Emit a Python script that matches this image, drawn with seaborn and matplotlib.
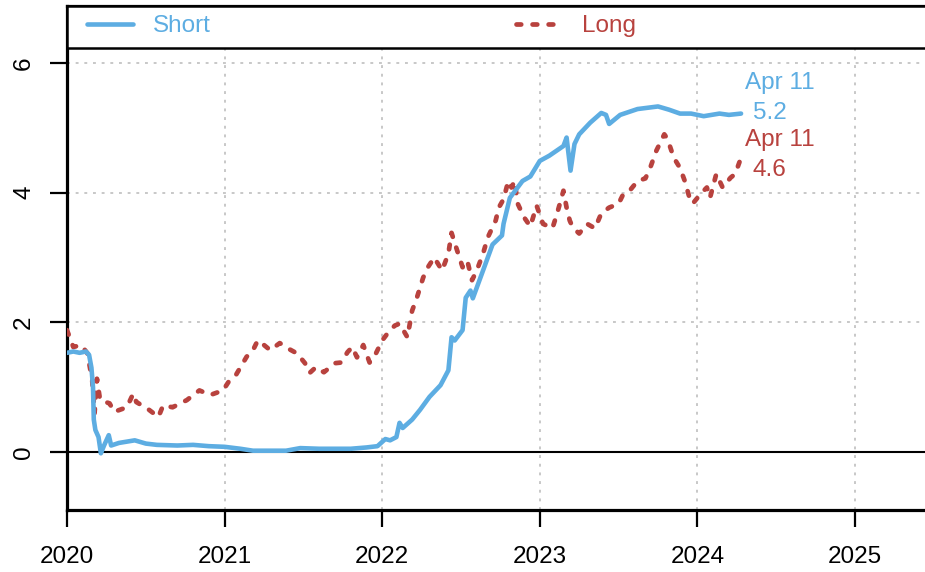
import matplotlib
matplotlib.use("Agg")
import matplotlib.pyplot as plt
from matplotlib.patches import Rectangle
import seaborn as sns
import pandas as pd

# ---------------- data ----------------
short_years = [2020.00, 2020.04, 2020.08, 2020.12, 2020.14, 2020.155, 2020.165, 2020.17, 2020.18, 2020.20,
               2020.215, 2020.235, 2020.265, 2020.28, 2020.33, 2020.43, 2020.50, 2020.57, 2020.70, 2020.80,
               2020.90, 2021.00, 2021.10, 2021.18, 2021.30, 2021.39, 2021.48, 2021.60, 2021.71, 2021.80,
               2021.90, 2021.97, 2022.02, 2022.05, 2022.09, 2022.11, 2022.13, 2022.19, 2022.24, 2022.30,
               2022.37, 2022.42, 2022.44, 2022.46, 2022.51, 2022.53, 2022.56, 2022.575, 2022.64, 2022.70,
               2022.76, 2022.77, 2022.81, 2022.89, 2022.94, 2023.00, 2023.06, 2023.15, 2023.17, 2023.195,
               2023.22, 2023.25, 2023.32, 2023.39, 2023.42, 2023.44, 2023.51, 2023.62, 2023.75, 2023.82,
               2023.89, 2023.96, 2024.04, 2024.14, 2024.20, 2024.277]
short_vals = [1.53, 1.55, 1.53, 1.55, 1.50, 1.30, 1.00, 0.50, 0.34, 0.23,
              -0.02, 0.10, 0.26, 0.10, 0.14, 0.18, 0.13, 0.11, 0.10, 0.11,
              0.09, 0.08, 0.05, 0.02, 0.02, 0.02, 0.06, 0.05, 0.05, 0.05,
              0.07, 0.09, 0.20, 0.18, 0.23, 0.45, 0.37, 0.50, 0.65, 0.85,
              1.03, 1.26, 1.77, 1.72, 1.88, 2.38, 2.49, 2.37, 2.80, 3.20,
              3.34, 3.52, 3.92, 4.18, 4.25, 4.49, 4.57, 4.72, 4.85, 4.34,
              4.75, 4.90, 5.08, 5.23, 5.20, 5.06, 5.20, 5.29, 5.33, 5.28,
              5.22, 5.22, 5.18, 5.22, 5.20, 5.22]

long_years = [2020.00, 2020.04, 2020.09, 2020.13, 2020.16, 2020.175, 2020.19, 2020.21, 2020.27, 2020.30,
              2020.38, 2020.42, 2020.44, 2020.51, 2020.58, 2020.61, 2020.67, 2020.76, 2020.84, 2020.91,
              2020.99, 2021.03, 2021.07, 2021.14, 2021.18, 2021.21, 2021.25, 2021.29, 2021.35, 2021.40,
              2021.46, 2021.51, 2021.54, 2021.58, 2021.63, 2021.70, 2021.74, 2021.78, 2021.81, 2021.84,
              2021.88, 2021.92, 2021.96, 2022.00, 2022.04, 2022.08, 2022.11, 2022.16, 2022.19, 2022.22,
              2022.26, 2022.29, 2022.33, 2022.38, 2022.42, 2022.44, 2022.47, 2022.51, 2022.54, 2022.57,
              2022.60, 2022.64, 2022.67, 2022.72, 2022.74, 2022.77, 2022.80, 2022.82, 2022.84, 2022.86,
              2022.90, 2022.94, 2022.98, 2023.02, 2023.08, 2023.11, 2023.15, 2023.17, 2023.19, 2023.21,
              2023.25, 2023.30, 2023.35, 2023.39, 2023.44, 2023.50, 2023.53, 2023.57, 2023.62, 2023.67,
              2023.70, 2023.74, 2023.77, 2023.79, 2023.81, 2023.85, 2023.89, 2023.92, 2023.95, 2023.97,
              2024.02, 2024.06, 2024.08, 2024.12, 2024.16, 2024.21, 2024.24, 2024.277]
long_vals = [1.88, 1.62, 1.65, 1.52, 1.10, 0.60, 1.13, 0.80, 0.75, 0.62,
             0.69, 0.90, 0.77, 0.67, 0.54, 0.72, 0.69, 0.80, 0.95, 0.88,
             0.95, 1.10, 1.18, 1.47, 1.57, 1.72, 1.65, 1.57, 1.68, 1.60,
             1.52, 1.37, 1.22, 1.31, 1.23, 1.37, 1.38, 1.54, 1.62, 1.46,
             1.65, 1.38, 1.52, 1.72, 1.85, 1.95, 1.98, 1.77, 2.18, 2.38,
             2.69, 2.85, 3.00, 2.80, 3.06, 3.38, 3.15, 2.85, 2.95, 2.65,
             2.80, 3.06, 3.31, 3.57, 3.77, 3.90, 4.18, 4.08, 4.18, 3.83,
             3.62, 3.48, 3.80, 3.52, 3.45, 3.68, 4.03, 3.77, 3.57, 3.46,
             3.37, 3.52, 3.45, 3.68, 3.77, 3.83, 3.98, 4.03, 4.18, 4.22,
             4.38, 4.65, 4.80, 4.90, 4.83, 4.54, 4.38, 4.18, 3.92, 3.83,
             3.98, 4.08, 3.92, 4.29, 4.08, 4.23, 4.29, 4.54]

series_labels = ["Short", "Long"]
end_date_label = "Apr 11"
end_values = ["5.2", "4.6"]
year_ticks = [2020, 2021, 2022, 2023, 2024, 2025]
y_ticks = [0, 2, 4, 6]

# ---------------- styling ----------------
BLUE = "#5DADE2"
RED = "#B8423E"
FS = 17.5

sns.set_style("white")
plt.rcParams["font.family"] = ["Liberation Sans", "DejaVu Sans"]

df_short = pd.DataFrame({"year": short_years, "value": short_vals})
df_long = pd.DataFrame({"year": long_years, "value": long_vals})

fig = plt.figure(figsize=(9.25, 5.72), dpi=100)
W, H = 925.0, 572.0
left_px, right_px, top_px, bot_px = 67.0, 943.5, 6.0, 510.0
ax = fig.add_axes([left_px / W, (H - bot_px) / H, (right_px - left_px) / W, (bot_px - top_px) / H])

sns.lineplot(data=df_long, x="year", y="value", ax=ax, color=RED, lw=3.4,
             estimator=None, sort=False, label=series_labels[1],
             linestyle=(0, (1.0, 2.4)), zorder=3)
sns.lineplot(data=df_short, x="year", y="value", ax=ax, color=BLUE, lw=3.3,
             estimator=None, sort=False, label=series_labels[0], zorder=4)
for ln in ax.get_lines():
    ln.set_dash_capstyle("round")
    ln.set_solid_capstyle("round")
    ln.set_solid_joinstyle("round")

ax.axhline(0, color="black", lw=1.5, zorder=2)

ax.set_xlim(2020, 2020 + (right_px - left_px) / 157.6)
ax.set_ylim(-(bot_px - 452) / 64.83, (452 - top_px) / 64.83)
ax.set_xticks(year_ticks)
ax.set_xticklabels([str(y) for y in year_ticks])
ax.set_yticks(y_ticks)
ax.set_yticklabels([str(v) for v in y_ticks], rotation=90, va="center")
ax.set_xlabel("")
ax.set_ylabel("")

ax.grid(True, color="#C4C4C4", linestyle=(0, (1.6, 3.2)), lw=1.3)
ax.set_axisbelow(True)

for side in ["left", "bottom", "top"]:
    ax.spines[side].set_visible(True)
    ax.spines[side].set_color("black")
    ax.spines[side].set_linewidth(2.3)
ax.spines["right"].set_visible(False)

ax.tick_params(axis="both", which="major", length=12, width=1.6, color="black",
               labelsize=FS, labelcolor="black", direction="out")
ax.tick_params(axis="x", pad=14, bottom=True)
ax.tick_params(axis="y", pad=11, left=True)

# legend band at the top of the panel
band_h = 42.0 / (bot_px - top_px)
ax.add_patch(Rectangle((0, 1 - band_h), 1.2, band_h, transform=ax.transAxes,
                       facecolor="white", edgecolor="black", lw=1.8, zorder=6, clip_on=False))
handles, labels = ax.get_legend_handles_labels()
order = [labels.index(series_labels[0]), labels.index(series_labels[1])]
fs_px = FS * 100 / 72
leg = ax.legend([handles[i] for i in order], [labels[i] for i in order],
                loc="center left", bbox_to_anchor=((87 - left_px) / (right_px - left_px),
                                                   (bot_px - 26) / (bot_px - top_px)),
                ncol=2, frameon=False, fontsize=FS, borderpad=0, borderaxespad=0,
                handlelength=46 / fs_px, handletextpad=20 / fs_px,
                columnspacing=305 / fs_px, labelcolor="linecolor")
leg.set_zorder(7)

# end labels
ax.text(2024.30, (452 - 83) / 64.83, end_date_label, color=BLUE, fontsize=FS, ha="left", va="center")
ax.text(2024.35, (452 - 113) / 64.83, end_values[0], color=BLUE, fontsize=FS, ha="left", va="center")
ax.text(2024.30, (452 - 140) / 64.83, end_date_label, color=RED, fontsize=FS, ha="left", va="center")
ax.text(2024.35, (452 - 170) / 64.83, end_values[1], color=RED, fontsize=FS, ha="left", va="center")

fig.savefig("out.png", dpi=100)
